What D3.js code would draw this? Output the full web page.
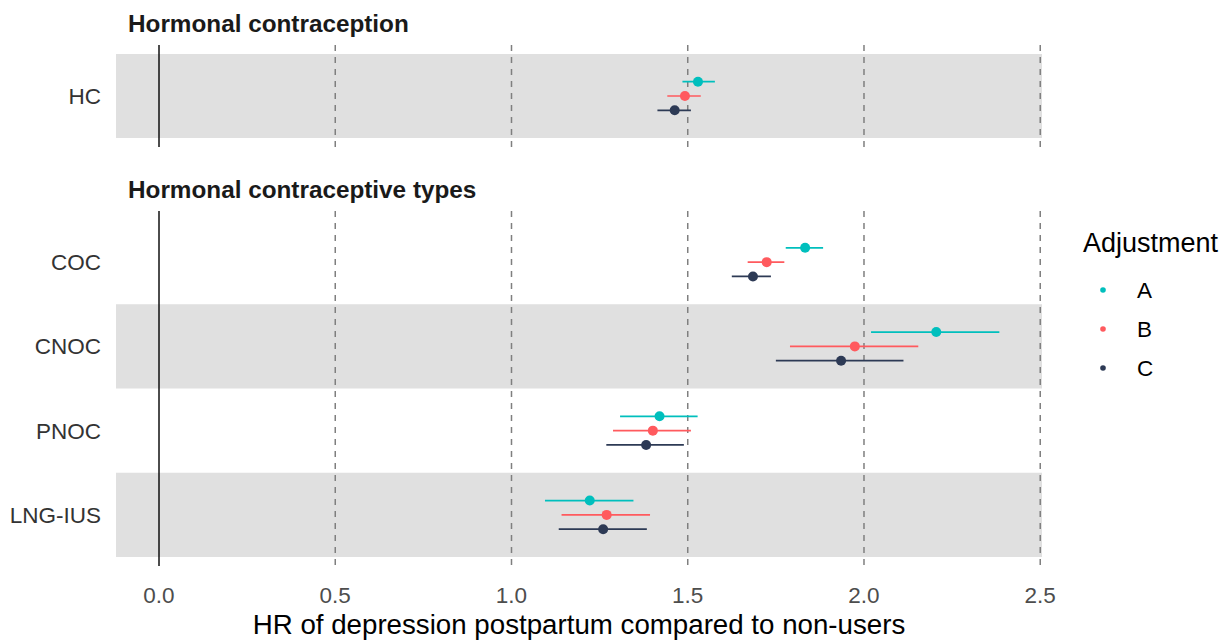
<!DOCTYPE html>
<html>
<head>
<meta charset="utf-8">
<script src="https://cdn.jsdelivr.net/npm/d3@7"></script>
<style>
  body { margin: 0; background: #fff; }
  svg text { font-family: "Liberation Sans", Arial, sans-serif; }
</style>
</head>
<body>
<svg id="chart" width="1228" height="640"></svg>
<script>
// data
const adjustments = ['A', 'B', 'C'];
const colors = ['#00BFBD', '#FF5A5E', '#2D3A55'];

const panels = ['Hormonal contraception', 'Hormonal contraceptive types'];
const panelCategories = [['HC'], ['COC', 'CNOC', 'PNOC', 'LNG-IUS']];

// HR per category, in adjustment order A, B, C
const hrEstimate = {
  'HC':      [1.529, 1.492, 1.463],
  'COC':     [1.833, 1.724, 1.685],
  'CNOC':    [2.205, 1.974, 1.935],
  'PNOC':    [1.420, 1.401, 1.382],
  'LNG-IUS': [1.222, 1.270, 1.260]
};
const hrLower = {
  'HC':      [1.485, 1.442, 1.414],
  'COC':     [1.778, 1.670, 1.625],
  'CNOC':    [2.020, 1.790, 1.750],
  'PNOC':    [1.308, 1.288, 1.269],
  'LNG-IUS': [1.095, 1.142, 1.134]
};
const hrUpper = {
  'HC':      [1.577, 1.537, 1.509],
  'COC':     [1.884, 1.774, 1.736],
  'CNOC':    [2.384, 2.154, 2.112],
  'PNOC':    [1.528, 1.509, 1.489],
  'LNG-IUS': [1.346, 1.393, 1.384]
};
const xTicks = [0, 0.5, 1.0, 1.5, 2.0, 2.5];
const shaded = ['HC', 'CNOC', 'LNG-IUS'];

const svg = d3.select('#chart');
const left = 116, right = 1042;

const x = d3.scaleLinear().domain([-0.122, 2.505]).range([left, right]);

// each panel: band area (top/bottom of category range)
const panelBox = [
  { top: 54, bottom: 138, lineTop: 45, lineBottom: 147, titleY: 32 },
  { top: 220, bottom: 557, lineTop: 211, lineBottom: 566, titleY: 198 }
];

panels.forEach((title, pi) => {
  const box = panelBox[pi];
  const cats = panelCategories[pi];
  const y = d3.scaleBand().domain(cats).range([box.top, box.bottom]);
  const g = svg.append('g');

  // shaded rows
  g.selectAll('.band')
    .data(cats.filter(c => shaded.includes(c)))
    .enter().append('rect')
    .attr('x', left)
    .attr('width', right - left)
    .attr('y', d => y(d))
    .attr('height', y.bandwidth())
    .attr('fill', '#e0e0e0');

  // dashed reference lines
  g.selectAll('.vline')
    .data(xTicks.filter(t => t > 0))
    .enter().append('line')
    .attr('x1', d => x(d)).attr('x2', d => x(d))
    .attr('y1', box.lineTop).attr('y2', box.lineBottom)
    .attr('stroke', '#7f7f7f')
    .attr('stroke-width', 1.5)
    .attr('stroke-dasharray', '6,6');

  // solid line at zero
  g.append('line')
    .attr('x1', x(0)).attr('x2', x(0))
    .attr('y1', box.lineTop).attr('y2', box.lineBottom)
    .attr('stroke', '#000')
    .attr('stroke-width', 1.4);

  // category labels
  g.selectAll('.ylab')
    .data(cats)
    .enter().append('text')
    .attr('x', 101)
    .attr('y', d => y(d) + y.bandwidth() / 2)
    .attr('dy', '0.36em')
    .attr('text-anchor', 'end')
    .attr('font-size', 22.5)
    .attr('fill', '#333')
    .text(d => d);

  // panel title
  svg.append('text')
    .attr('x', 128)
    .attr('y', box.titleY)
    .attr('font-size', 24.3)
    .attr('font-weight', 'bold')
    .attr('fill', '#1a1a1a')
    .text(title);

  // dodged estimates
  const dodge = d3.scaleBand().domain(adjustments).range([-21.5, 21.5]);
  const rows = [];
  cats.forEach(c => adjustments.forEach((a, i) => {
    rows.push({ cat: c, adj: a, i: i, est: hrEstimate[c][i], lo: hrLower[c][i], hi: hrUpper[c][i] });
  }));
  const yPos = d => y(d.cat) + y.bandwidth() / 2 + dodge(d.adj) + dodge.bandwidth() / 2;

  g.selectAll('.ci')
    .data(rows)
    .enter().append('line')
    .attr('x1', d => x(d.lo)).attr('x2', d => x(d.hi))
    .attr('y1', yPos).attr('y2', yPos)
    .attr('stroke', d => colors[d.i])
    .attr('stroke-width', 1.7);

  g.selectAll('.pt')
    .data(rows)
    .enter().append('circle')
    .attr('cx', d => x(d.est))
    .attr('cy', yPos)
    .attr('r', 5)
    .attr('fill', d => colors[d.i]);
});

// x axis labels
svg.selectAll('.xlab')
  .data(xTicks)
  .enter().append('text')
  .attr('x', d => x(d))
  .attr('y', 603)
  .attr('text-anchor', 'middle')
  .attr('font-size', 22.5)
  .attr('fill', '#4d4d4d')
  .text(d => d3.format('.1f')(d));

svg.append('text')
  .attr('x', (left + right) / 2)
  .attr('y', 634)
  .attr('text-anchor', 'middle')
  .attr('font-size', 27.7)
  .attr('fill', '#000')
  .text('HR of depression postpartum compared to non-users');

// legend
const legend = svg.append('g');
legend.append('text')
  .attr('x', 1083)
  .attr('y', 252)
  .attr('font-size', 27)
  .attr('fill', '#000')
  .text('Adjustment');

const ly = d3.scalePoint().domain(adjustments).range([290, 368]);
legend.selectAll('.key')
  .data(adjustments)
  .enter().append('circle')
  .attr('cx', 1103)
  .attr('cy', d => ly(d))
  .attr('r', 2.8)
  .attr('fill', (d, i) => colors[i]);
legend.selectAll('.keytext')
  .data(adjustments)
  .enter().append('text')
  .attr('x', 1137)
  .attr('y', d => ly(d))
  .attr('dy', '0.36em')
  .attr('font-size', 22.5)
  .attr('fill', '#000')
  .text(d => d);
</script>
</body>
</html>
